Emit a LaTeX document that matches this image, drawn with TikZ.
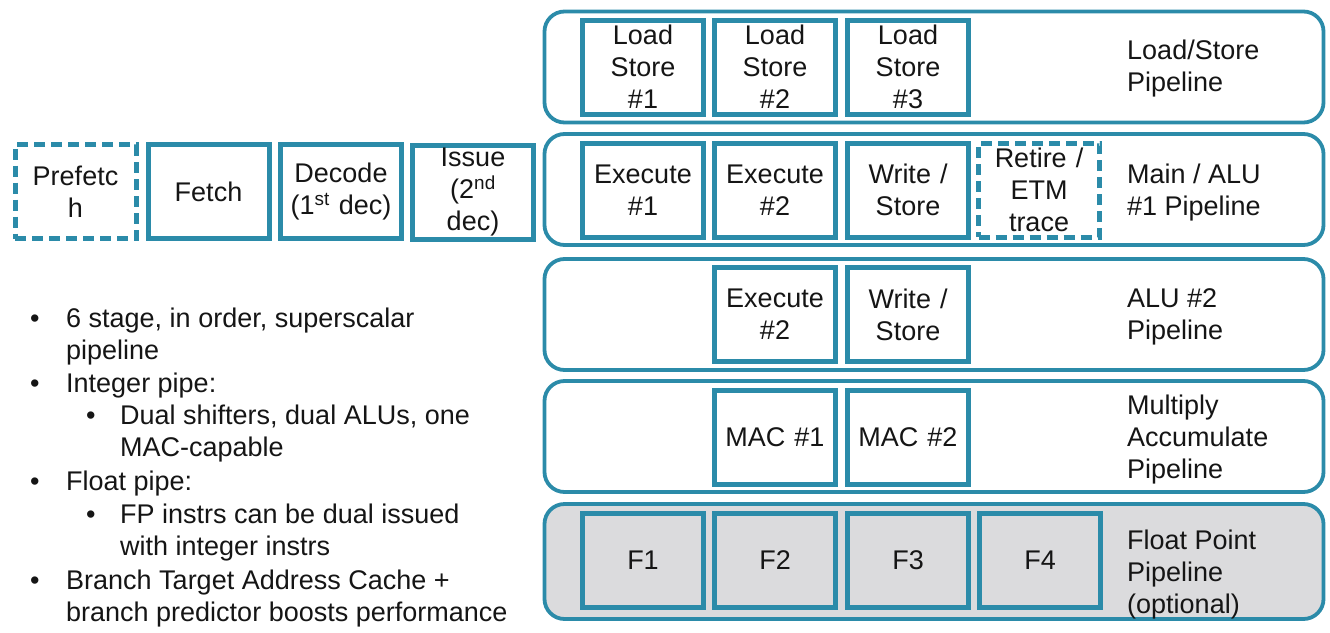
\documentclass[tikz,border=0pt]{standalone}
\usepackage{fontspec}
\setmainfont{Liberation Sans}
\definecolor{teal}{HTML}{2B8BA9}
\definecolor{ink}{HTML}{151515}
\definecolor{fpgray}{HTML}{DBDBDD}
\begin{document}
\begin{tikzpicture}[x=1pt,y=-1pt,
  every node/.style={text=ink,font=\fontsize{27}{32}\selectfont},
  pipe/.style={draw=teal,line width=3.8pt,rounded corners=20pt,minimum width=779pt,minimum height=111pt,inner sep=0pt},
  stagebox/.style={draw=teal,line width=5pt,minimum width=121pt,minimum height=94pt,inner sep=0pt,align=center,text width=121pt},
  dashbox/.style={stagebox,dash pattern=on 11pt off 6pt},
  plabel/.style={anchor=west,align=left,inner sep=0pt},
  bline/.style={anchor=base west,inner sep=0pt}]
\useasboundingbox (0,0) rectangle (1330,632);
% pipelines
\node[pipe] (p1) at (934,67) {};
\node[pipe] (p2) at (934,189.5) {};
\node[pipe] (p3) at (934,314.5) {};
\node[pipe] (p4) at (934,436.5) {};
\node[pipe,fill=fpgray,minimum height=115pt] (p5) at (934,561.5) {};
% load/store
\node[stagebox] (ls1) at (643,67) {Load\\Store\\\#1};
\node[stagebox] (ls2) at (775,67) {Load\\Store\\\#2};
\node[stagebox] (ls3) at (908,67) {Load\\Store\\\#3};
\node[plabel] (l1) at (1127,69) {Load/Store\\Pipeline};
% main
\node[stagebox] (ex1) at (643,190) {Execute\\\#1};
\node[stagebox] (ex2) at (775,190) {Execute\\\#2};
\node[stagebox] (wr1) at (908,190) {Write /\\Store};
\node[dashbox] (ret) at (1039,190) {Retire /\\ETM\\trace};
\node[plabel] (l2) at (1127,193) {Main / ALU\\\#1 Pipeline};
% alu2
\node[stagebox] (ex3) at (775,314.5) {Execute\\\#2};
\node[stagebox] (wr2) at (908,314.5) {Write /\\Store};
\node[plabel] (l3) at (1127,317) {ALU \#2\\Pipeline};
% mac
\node[stagebox] (mac1) at (775,437) {MAC \#1};
\node[stagebox] (mac2) at (908,437) {MAC \#2};
\node[plabel] (l4) at (1127,440) {Multiply\\Accumulate\\Pipeline};
% float
\node[stagebox,fill=fpgray] (f1) at (643,560.5) {F1};
\node[stagebox,fill=fpgray] (f2) at (775,560.5) {F2};
\node[stagebox,fill=fpgray] (f3) at (908,560.5) {F3};
\node[stagebox,fill=fpgray] (f4) at (1040,560.5) {F4};
\node[plabel] (l5) at (1127,575) {Float Point\\Pipeline\\(optional)};
% front end
\node[dashbox] (pf) at (75.5,191.5) {Prefetc\\h};
\node[stagebox] (fe) at (208.5,191.5) {Fetch};
\node[stagebox] (de) at (341,191.5) {Decode\\(1\textsuperscript{st} dec)};
\node[stagebox] (is) at (473,192) {Issue\\(2\textsuperscript{nd}\\dec)};
% bullets
\node[bline] (b1) at (30,327) {•};
\node[bline] (t1) at (66,327) {6 stage, in order, superscalar};
\node[bline] (t1b) at (66,359) {pipeline};
\node[bline] (b2) at (30,392) {•};
\node[bline] (t2) at (66,392) {Integer pipe:};
\node[bline] (b3) at (86,424) {•};
\node[bline] (t3) at (120,424) {Dual shifters, dual ALUs, one};
\node[bline] (t3b) at (120,456) {MAC-capable};
\node[bline] (b4) at (30,490) {•};
\node[bline] (t4) at (66,490) {Float pipe:};
\node[bline] (b5) at (86,523) {•};
\node[bline] (t5) at (120,523) {FP instrs can be dual issued};
\node[bline] (t5b) at (120,555) {with integer instrs};
\node[bline] (b6) at (30,589) {•};
\node[bline] (t6) at (66,589) {Branch Target Address Cache +};
\node[bline] (t6b) at (66,621) {branch predictor boosts performance};
\end{tikzpicture}
\end{document}
